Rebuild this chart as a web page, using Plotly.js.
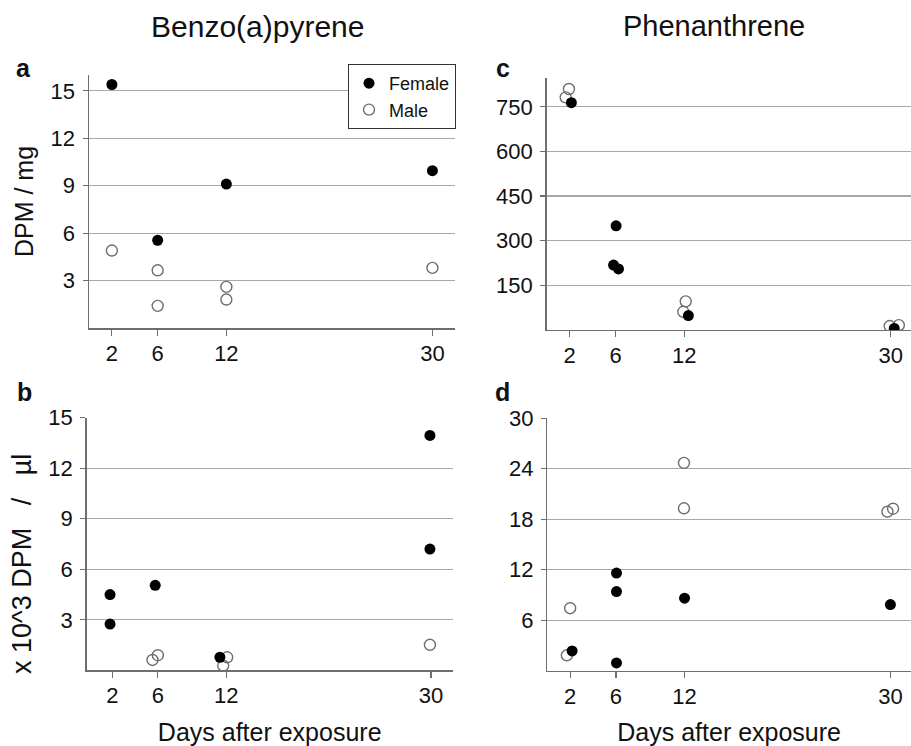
<!DOCTYPE html>
<html>
<head>
<meta charset="utf-8">
<script src="https://cdn.plot.ly/plotly-3.0.1.min.js"></script>
<style>html,body{margin:0;padding:0;background:#fff;}#chart{width:911px;height:746px;}</style>
</head>
<body>
<div id="chart"></div>
<script>
// Panel a: Benzo(a)pyrene, DPM / mg
const aFemaleX = [2, 6, 12, 30];
const aFemaleY = [15.4, 5.55, 9.1, 9.95];
const aMaleX = [2, 6, 6, 12, 12, 30];
const aMaleY = [4.9, 3.65, 1.4, 2.6, 1.8, 3.8];

// Panel b: Benzo(a)pyrene, x 10^3 DPM / µl
const bFemaleX = [1.8, 1.8, 5.77, 11.45, 29.9, 29.9];
const bFemaleY = [4.5, 2.75, 5.05, 0.78, 13.95, 7.2];
const bMaleX = [5.53, 6.0, 11.74, 12.09, 29.9];
const bMaleY = [0.62, 0.9, 0.28, 0.78, 1.52];

// Panel c: Phenanthrene, DPM / mg
const cFemaleX = [2.15, 6.05, 5.83, 6.26, 12.35, 30.3];
const cFemaleY = [764, 350, 218, 205, 48, 5];
const cMaleX = [1.94, 1.65, 12.12, 11.91, 29.9, 30.7];
const cMaleY = [810, 782, 96, 61, 13, 16];

// Panel d: Phenanthrene, x 10^3 DPM / µl
const dFemaleX = [2.17, 6.05, 6.05, 6.05, 12, 30];
const dFemaleY = [2.35, 11.6, 9.4, 0.92, 8.62, 7.86];
const dMaleX = [2.0, 1.71, 11.95, 11.95, 29.74, 30.23];
const dMaleY = [7.43, 1.83, 24.7, 19.3, 18.9, 19.25];

const dayTicks = [2, 6, 12, 30];
const aTicks = [3, 6, 9, 12, 15];
const bTicks = [3, 6, 9, 12, 15];
const cTicks = [150, 300, 450, 600, 750];
const dTicks = [6, 12, 18, 24, 30];

const FONT = 'Liberation Sans, Arial, sans-serif';
const NB = '\u00a0';
const femaleMarker = {symbol: 'circle', size: 11, color: '#000', line: {width: 0}};
const maleMarker = {symbol: 'circle-open', size: 11, color: '#6e6e6e', line: {width: 1.4, color: '#6e6e6e'}};

function tr(x, y, name, marker, xa, ya, showlegend) {
  return {type: 'scatter', mode: 'markers', x: x, y: y, name: name, marker: marker,
          xaxis: xa, yaxis: ya, showlegend: showlegend, legendgroup: name, hoverinfo: 'x+y'};
}

const data = [
  tr(aMaleX, aMaleY, 'Male', maleMarker, 'x', 'y', true),
  tr(aFemaleX, aFemaleY, 'Female', femaleMarker, 'x', 'y', true),
  tr(bMaleX, bMaleY, 'Male', maleMarker, 'x2', 'y2', false),
  tr(bFemaleX, bFemaleY, 'Female', femaleMarker, 'x2', 'y2', false),
  tr(cMaleX, cMaleY, 'Male', maleMarker, 'x3', 'y3', false),
  tr(cFemaleX, cFemaleY, 'Female', femaleMarker, 'x3', 'y3', false),
  tr(dMaleX, dMaleY, 'Male', maleMarker, 'x4', 'y4', false),
  tr(dFemaleX, dFemaleY, 'Female', femaleMarker, 'x4', 'y4', false)
];

function xax(domain, range, anchor, withTitle) {
  const o = {
    domain: domain, range: range, anchor: anchor,
    tickmode: 'array', tickvals: dayTicks, ticktext: dayTicks.map(String),
    showgrid: false, zeroline: false, showline: true, linecolor: '#6e6e6e', linewidth: 1.5,
    ticks: 'outside', ticklen: 6, tickwidth: 1.2, tickcolor: '#6e6e6e',
    ticklabelstandoff: -1,
    tickfont: {family: FONT, size: 22, color: '#111'}, automargin: false
  };
  if (withTitle) {
    o.title = {text: 'Days after exposure', font: {family: FONT, size: 25, color: '#111'}, standoff: 26};
  }
  return o;
}
function yax(domain, range, anchor, ticks, titleText, titleSize) {
  const o = {
    domain: domain, range: range, anchor: anchor,
    tickmode: 'array', tickvals: ticks, ticktext: ticks.map(String),
    showgrid: true, gridcolor: '#a8a8a8', gridwidth: 1.2,
    zeroline: false, showline: true, linecolor: '#6e6e6e', linewidth: 1.5,
    ticks: 'outside', ticklen: 5, tickwidth: 1.2, tickcolor: '#6e6e6e',
    ticklabelstandoff: 3,
    tickfont: {family: FONT, size: 22, color: '#111'}, automargin: false
  };
  if (titleText) {
    o.title = {text: titleText, font: {family: FONT, size: titleSize, color: '#111'}, standoff: 10};
  }
  return o;
}

const H = 746, W = 911;
const bTitle = 'x 10^3 DPM' + NB + NB + NB + '/' + NB + NB + NB + 'µl';
const layout = {
  width: W, height: H,
  margin: {l: 0, r: 0, t: 0, b: 0},
  paper_bgcolor: '#fff', plot_bgcolor: 'rgba(0,0,0,0)',
  font: {family: FONT, color: '#111'},
  xaxis: xax([89 / W, 455.3 / W], [0, 32], 'y', false),
  yaxis: yax([1 - 328 / H, 1 - 75 / H], [0, 16], 'x', aTicks, 'DPM / mg', 25),
  xaxis2: xax([86.7 / W, 452.7 / W], [-0.25, 31.9], 'y2', true),
  yaxis2: yax([1 - 670.4 / H, 1 - 417.7 / H], [0, 15], 'x2', bTicks, null, 27),
  xaxis3: xax([546.7 / W, 1], [0, 31.76], 'y3', false),
  yaxis3: yax([1 - 329.9 / H, 1 - 77.7 / H], [0, 848], 'x3', cTicks, null, 25),
  xaxis4: xax([547.3 / W, 1], [0, 31.8], 'y4', true),
  yaxis4: yax([1 - 670.7 / H, 1 - 418.3 / H], [0, 30], 'x4', dTicks, null, 25),
  showlegend: true,
  legend: {
    x: 456 / W, y: 1 - 64 / H, xanchor: 'right', yanchor: 'top',
    bgcolor: '#fff', bordercolor: '#333', borderwidth: 1,
    font: {family: FONT, size: 18, color: '#111'},
    traceorder: 'reversed', itemwidth: 30, tracegroupgap: 0
  },
  annotations: [
    {text: 'Benzo(a)pyrene', x: 257.5 / W, y: 1 - 26.5 / H, xref: 'paper', yref: 'paper', xanchor: 'center', yanchor: 'middle', showarrow: false, font: {family: FONT, size: 30, color: '#111'}},
    {text: 'Phenanthrene', x: 714 / W, y: 1 - 26.5 / H, xref: 'paper', yref: 'paper', xanchor: 'center', yanchor: 'middle', showarrow: false, font: {family: FONT, size: 29, color: '#111'}},
    {text: bTitle, textangle: -90, x: 22 / W, y: 1 - 564 / H, xref: 'paper', yref: 'paper', xanchor: 'center', yanchor: 'middle', showarrow: false, font: {family: FONT, size: 27, color: '#111'}},
    {text: '<b>a</b>', x: 23 / W, y: 1 - 68 / H, xref: 'paper', yref: 'paper', xanchor: 'center', yanchor: 'middle', showarrow: false, font: {family: FONT, size: 25, color: '#111'}},
    {text: '<b>b</b>', x: 24 / W, y: 1 - 392 / H, xref: 'paper', yref: 'paper', xanchor: 'center', yanchor: 'middle', showarrow: false, font: {family: FONT, size: 25, color: '#111'}},
    {text: '<b>c</b>', x: 503 / W, y: 1 - 68 / H, xref: 'paper', yref: 'paper', xanchor: 'center', yanchor: 'middle', showarrow: false, font: {family: FONT, size: 25, color: '#111'}},
    {text: '<b>d</b>', x: 503 / W, y: 1 - 392 / H, xref: 'paper', yref: 'paper', xanchor: 'center', yanchor: 'middle', showarrow: false, font: {family: FONT, size: 25, color: '#111'}}
  ]
};

Plotly.newPlot('chart', data, layout, {displayModeBar: false, staticPlot: true});
</script>
</body>
</html>
